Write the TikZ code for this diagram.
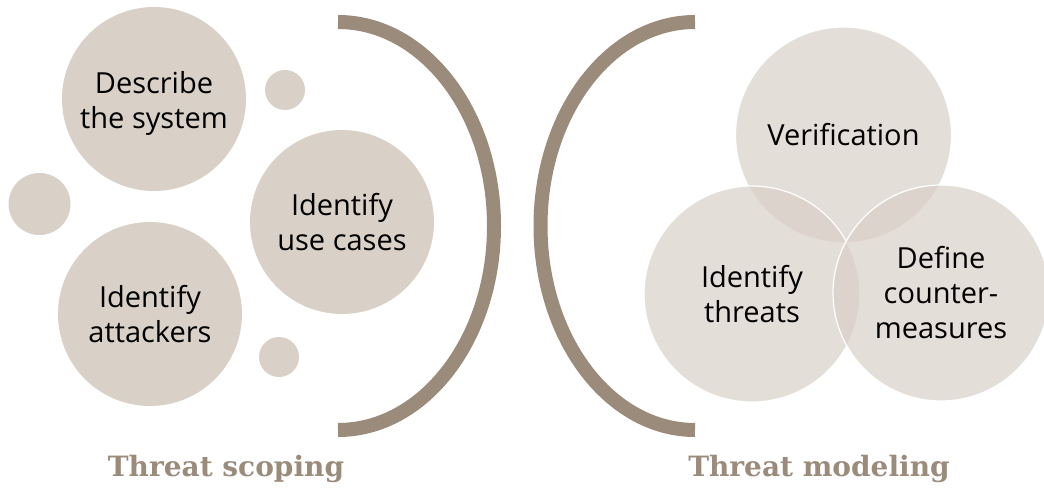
\documentclass[tikz,border=0pt]{standalone}
\usepackage{fontspec}
\setmainfont{Open Sans}
\newfontfamily\labelfont{DejaVu Serif}
\usetikzlibrary{calc}
\usetikzlibrary{positioning}
\tikzset{every node/.style={font=\fontsize{21.75}{26.25}\selectfont}}
\definecolor{mybeige}{HTML}{D9D0C7}
\definecolor{mybrown}{HTML}{9B8B7B}

\begin{document}
\begin{tikzpicture}[x=0.75pt, y=-0.75pt,
    bigdot/.style={circle, fill=mybeige, minimum size=138pt, inner sep=0pt, align=center},
    smalldot/.style={circle, fill=mybeige, minimum size=#1, inner sep=0pt},
    venn/.style={circle, fill=mybeige, fill opacity=0.7, text opacity=1, draw=white, line width=0.9pt,
                 minimum size=162pt, inner sep=0pt, align=center},
    bracket/.style={mybrown, line width=10.5pt},
    grouplabel/.style={text=mybrown, font=\labelfont\bfseries\fontsize{21}{24}\selectfont}]

\useasboundingbox (0,0) rectangle (1044,491);

\def\ry{204}

% 左边: threat scoping

\node[bigdot] (describe) at (154,99) {};
\node[align=center] (describetext) at ($(describe)+(0,4)$) {Describe\\the system};
\node[bigdot] (usecases) at (342,222) {Identify\\use cases};
\node[bigdot] (attackers) at (150,314) {Identify\\attackers};

\node[smalldot=30pt] (dotA) at (285,90) {};
\node[smalldot=46.5pt] (dotB) at (39.5,204) {};
\node[smalldot=30pt] (dotC) at (279,357) {};

\draw[bracket] (338,22) arc[start angle=-90, end angle=90, x radius=156, y radius=\ry];

\node[grouplabel] (scoping) at (226,469) {Threat scoping};

%%%%%%%%%%%%%%%%%%%%%%%%%%%%%%%%%%%%%%%%%%%%%%%%%%%%%%%%%%%%%%%%%%%%%%%%%%%%%%%%%%%%%%%%%%%%%%%%%%%%%
% 右边: threat modeling

\draw[bracket] (695,22) arc[start angle=270, end angle=90, x radius=154.5, y radius=\ry];

\node[venn] (verification) at (843.5,135) {Verification};
\node[venn] (threats) at (752,294) {Identify\\threats};
\node[venn] (counter) at (941,293) {Define\\counter-\\measures};

\node[grouplabel] (modeling) at (819,469) {Threat modeling};

\end{tikzpicture}
\end{document}
